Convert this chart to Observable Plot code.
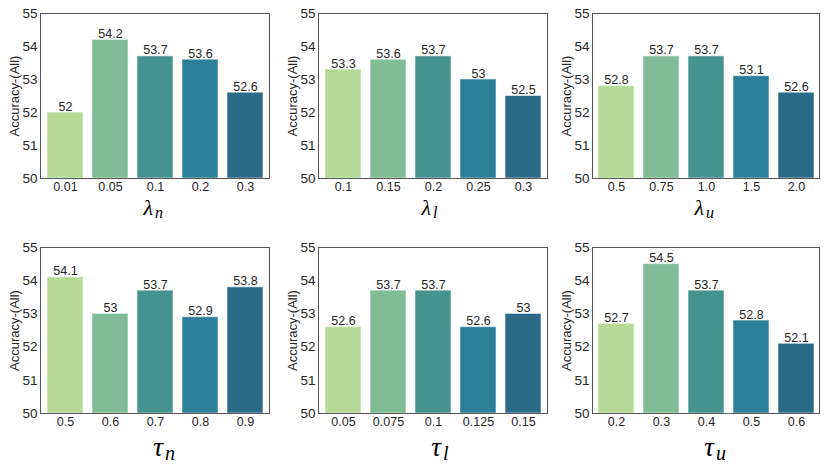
<!DOCTYPE html>
<html>
<head>
<meta charset="utf-8">
<script src="https://cdn.jsdelivr.net/npm/d3@7"></script>
<script src="https://cdn.jsdelivr.net/npm/@observablehq/plot@0.6"></script>
<style>
  html, body { margin: 0; padding: 0; background: #fff; }
  #root { position: relative; width: 830px; height: 469px; overflow: hidden; background: #fff; }
  #root > svg { position: absolute; }
</style>
</head>
<body>
<div id="root"></div>
<script>
// ---- data ----
const lambdaNValues = ["0.01", "0.05", "0.1", "0.2", "0.3"];
const lambdaNAcc = [52, 54.2, 53.7, 53.6, 52.6];
const lambdaLValues = ["0.1", "0.15", "0.2", "0.25", "0.3"];
const lambdaLAcc = [53.3, 53.6, 53.7, 53, 52.5];
const lambdaUValues = ["0.5", "0.75", "1.0", "1.5", "2.0"];
const lambdaUAcc = [52.8, 53.7, 53.7, 53.1, 52.6];
const tauNValues = ["0.5", "0.6", "0.7", "0.8", "0.9"];
const tauNAcc = [54.1, 53, 53.7, 52.9, 53.8];
const tauLValues = ["0.05", "0.075", "0.1", "0.125", "0.15"];
const tauLAcc = [52.6, 53.7, 53.7, 52.6, 53];
const tauUValues = ["0.2", "0.3", "0.4", "0.5", "0.6"];
const tauUAcc = [52.7, 54.5, 53.7, 52.8, 52.1];
const yTicks = [50, 51, 52, 53, 54, 55];
const yDomain = [50, 55];
const barColors = ["#b6d995", "#80bd97", "#45938f", "#2b7f98", "#2b6b88"];
const yLabel = "Accuracy-(All)";

const panels = [
  {cats: lambdaNValues, vals: lambdaNAcc, sym: "λ", sub: "n", left: 0,   top: 0,   fw: 229, row: 0},
  {cats: lambdaLValues, vals: lambdaLAcc, sym: "λ", sub: "l", left: 278, top: 0,   fw: 229, row: 0},
  {cats: lambdaUValues, vals: lambdaUAcc, sym: "λ", sub: "u", left: 552, top: 0,   fw: 227, row: 0},
  {cats: tauNValues,    vals: tauNAcc,    sym: "τ", sub: "n", left: 0,   top: 234, fw: 229, row: 1},
  {cats: tauLValues,    vals: tauLAcc,    sym: "τ", sub: "l", left: 278, top: 234, fw: 229, row: 1},
  {cats: tauUValues,    vals: tauUAcc,    sym: "τ", sub: "u", left: 552, top: 234, fw: 227, row: 1}
];

const root = document.getElementById("root");
const mathFont = "'Liberation Serif', 'DejaVu Serif', serif";

for (const p of panels) {
  const data = p.cats.map((c, i) => ({cat: c, acc: p.vals[i]}));
  const marginLeft = 40, marginRight = 4, marginTop = 13;
  const height = p.row === 0 ? 234 : 235;
  const marginBottom = 56;
  const big = p.row === 1;
  const chart = Plot.plot({
    width: marginLeft + p.fw + marginRight,
    height,
    marginLeft, marginRight, marginTop, marginBottom,
    style: {fontFamily: "'Liberation Sans', Arial, sans-serif", color: "#262626", background: "white"},
    x: {type: "band", domain: p.cats, paddingInner: 0.2, paddingOuter: 0.1},
    y: {domain: yDomain},
    color: {type: "ordinal", domain: p.cats, range: barColors},
    marks: [
      Plot.barY(data, {x: "cat", y1: yDomain[0], y2: "acc", fill: "cat", stroke: "white", strokeOpacity: 0.55, strokeWidth: 1}),
      Plot.text(data, {x: "cat", y: "acc", text: d => String(d.acc), lineAnchor: "bottom", dy: -2, fontSize: 12.5, fill: "#262626"}),
      Plot.axisY({ticks: yTicks, tickFormat: d => String(d), tickSize: 0, tickPadding: 3, fontSize: 13.5, label: null}),
      Plot.axisX({tickSize: 0, tickPadding: 4, fontSize: 12.5, label: null}),
      Plot.frame({stroke: "#555", strokeWidth: 1}),
      Plot.text([yLabel], {frameAnchor: "left", dx: -26, rotate: -90, textAnchor: "middle", lineAnchor: "middle", fontSize: 13, fill: "#262626"}),
      Plot.text([p.sym], {frameAnchor: "bottom", textAnchor: "end", lineAnchor: "middle",
        dx: big ? 8 : -2, dy: big ? 34 : 29, fontSize: big ? 27 : 22, fontStyle: "italic", fontFamily: mathFont, fill: "#000"}),
      Plot.text([p.sub], {frameAnchor: "bottom", textAnchor: "start", lineAnchor: "middle",
        dx: big ? 10 : 0, dy: big ? 40 : 34, fontSize: big ? 20 : 16, fontStyle: "italic", fontFamily: mathFont, fill: "#000"})
    ]
  });
  chart.style.left = p.left + "px";
  chart.style.top = p.top + "px";
  root.appendChild(chart);
}
</script>
</body>
</html>
